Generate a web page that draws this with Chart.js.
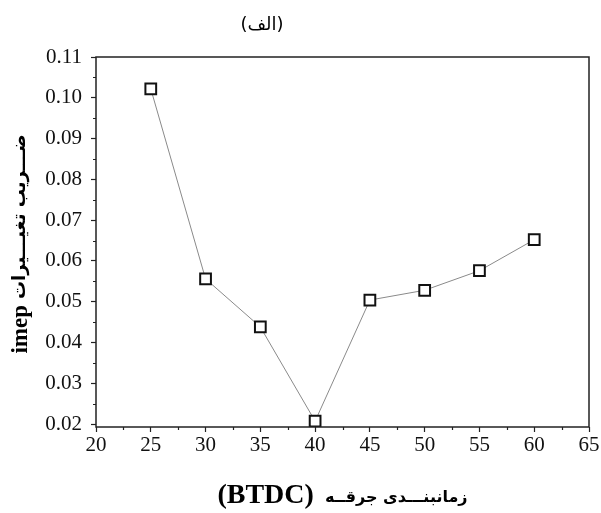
<!DOCTYPE html>
<html>
<head>
<meta charset="utf-8">
<script src="https://cdn.jsdelivr.net/npm/chart.js@4.4.0/dist/chart.umd.min.js"></script>
<style>
html,body{margin:0;padding:0;background:#fff;}
#wrap{width:601px;height:513px;position:relative;}
</style>
</head>
<body>
<div id="wrap"><canvas id="c" width="601" height="513"></canvas></div>
<script>
// ---- data ----
const sparkTiming = [25, 30, 35, 40, 45, 50, 55, 60];
const covImep = [0.1022, 0.0556, 0.0438, 0.0207, 0.0504, 0.0528, 0.0576, 0.0652];
const xTickValues = [20, 25, 30, 35, 40, 45, 50, 55, 60, 65];
const yTickValues = [0.02, 0.03, 0.04, 0.05, 0.06, 0.07, 0.08, 0.09, 0.10, 0.11];
const xMinorTicks = [22.5, 27.5, 32.5, 37.5, 42.5, 47.5, 52.5, 57.5, 62.5];
const yMinorTicks = [0.025, 0.035, 0.045, 0.055, 0.065, 0.075, 0.085, 0.095, 0.105];
const chartTitle = '(الف)';
const xTitleLatin = '(BTDC)';
const xTitlePersian = 'زمانبنـــدی جرقــه';
const yTitleLatin = 'imep';
const yTitlePersian = 'ضـــریب تغیـــیرات';

const SERIF = "'Liberation Serif', 'Times New Roman', 'DejaVu Serif', serif";
const ARAB = "'DejaVu Sans', 'Noto Sans', sans-serif";

const decor = {
  id: 'decor',
  afterDraw(chart) {
    const ctx = chart.ctx;
    const a = chart.chartArea;
    const xs = chart.scales.x, ys = chart.scales.y;
    ctx.save();
    // frame
    ctx.strokeStyle = '#222';
    ctx.lineWidth = 1.5;
    ctx.strokeRect(a.left, a.top, a.right - a.left, a.bottom - a.top);
    // minor ticks
    ctx.lineWidth = 1.2;
    ctx.beginPath();
    xMinorTicks.forEach(v => {
      const px = Math.round(xs.getPixelForValue(v)) + 0.5;
      ctx.moveTo(px, a.bottom); ctx.lineTo(px, a.bottom + 3);
    });
    yMinorTicks.forEach(v => {
      const py = Math.round(ys.getPixelForValue(v)) + 0.5;
      ctx.moveTo(a.left, py); ctx.lineTo(a.left - 3, py);
    });
    ctx.stroke();

    ctx.fillStyle = '#000';
    ctx.textBaseline = 'alphabetic';
    // chart title
    ctx.font = '18px ' + ARAB;
    ctx.textAlign = 'center';
    ctx.fillText(chartTitle, 262, 30);

    // x title (mixed fonts)
    const latFont = 'bold 28px ' + SERIF;
    const perFont = 'bold 16px ' + ARAB;
    ctx.textAlign = 'left';
    ctx.font = latFont; const wL = ctx.measureText(xTitleLatin).width;
    ctx.font = perFont; const wP = ctx.measureText(xTitlePersian).width;
    const gap = 11;
    const cx = (a.left + a.right) / 2;
    let sx = cx - (wL + gap + wP) / 2;
    const by = 503;
    ctx.font = latFont; ctx.fillText(xTitleLatin, sx, by);
    ctx.font = perFont; ctx.fillText(xTitlePersian, sx + wL + gap, by - 1);

    // y title rotated
    ctx.save();
    ctx.translate(27, 244);
    ctx.rotate(-Math.PI / 2);
    const yLat = 'bold 23px ' + SERIF;
    const yPer = 'bold 18px ' + ARAB;
    const ygap = 6;
    ctx.font = yLat; const wyL = ctx.measureText(yTitleLatin).width;
    ctx.font = yPer; const wyP = ctx.measureText(yTitlePersian).width;
    let s = -(wyL + ygap + wyP) / 2;
    ctx.font = yLat; ctx.fillText(yTitleLatin, s, 0);
    ctx.font = yPer; ctx.fillText(yTitlePersian, s + wyL + ygap, -2);
    ctx.restore();

    ctx.restore();
  }
};

new Chart(document.getElementById('c'), {
  type: 'line',
  data: {
    datasets: [{
      data: sparkTiming.map((x, i) => ({x: x, y: covImep[i]})),
      borderColor: '#8a8a8a',
      borderWidth: 1,
      pointStyle: 'rect',
      pointRadius: 7.6,
      pointBorderWidth: 2,
      pointBorderColor: '#111',
      pointBackgroundColor: '#fff',
      tension: 0,
      fill: false
    }]
  },
  options: {
    responsive: false,
    animation: false,
    devicePixelRatio: 1,
    layout: {padding: {top: 57, right: 12, left: 0, bottom: 0}},
    plugins: {legend: {display: false}, title: {display: false}, tooltip: {enabled: false}},
    scales: {
      x: {
        type: 'linear',
        min: 20, max: 65,
        afterBuildTicks: s => { s.ticks = xTickValues.map(v => ({value: v})); },
        afterFit: s => { s.height = 86; },
        grid: {drawOnChartArea: false, drawTicks: true, tickLength: 5, tickColor: '#222', tickWidth: 1.2},
        border: {display: false},
        ticks: {color: '#111', font: {family: SERIF, size: 21}, padding: 1, maxRotation: 0, autoSkip: false}
      },
      y: {
        type: 'linear',
        min: 0.01927, max: 0.11,
        afterBuildTicks: s => { s.ticks = yTickValues.map(v => ({value: v})); },
        afterFit: s => { s.width = 96; },
        grid: {drawOnChartArea: false, drawTicks: true, tickLength: 5, tickColor: '#222', tickWidth: 1.2},
        border: {display: false},
        ticks: {color: '#111', font: {family: SERIF, size: 21}, padding: 9, autoSkip: false,
          callback: v => Number(v).toFixed(2)}
      }
    }
  },
  plugins: [decor]
});
</script>
</body>
</html>
